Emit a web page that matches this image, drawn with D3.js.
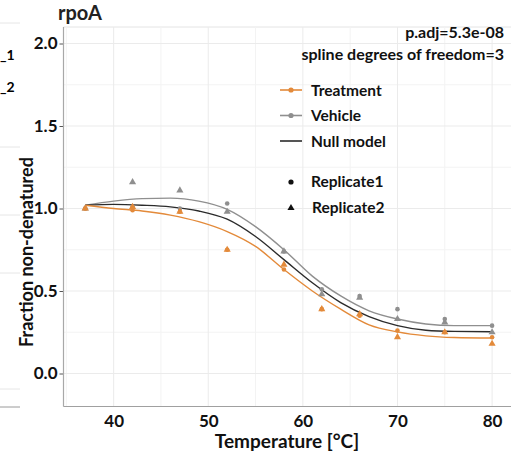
<!DOCTYPE html>
<html><head><meta charset="utf-8">
<script src="https://cdn.jsdelivr.net/npm/d3@7"></script>
<style>body{margin:0;background:#fff}svg{display:block}text{font-family:Lato,"Open Sans",sans-serif}</style>
</head><body>
<svg id="c" width="512" height="461"></svg>
<script>
// ---- data ----
const temps = [37, 42, 47, 52, 58, 62, 66, 70, 75, 80];
const treatmentRep1 = [1.00, 0.99, 0.98, 0.75, 0.63, 0.39, 0.35, 0.26, 0.25, 0.22];
const treatmentRep2 = [1.00, 1.01, 0.98, 0.75, 0.66, 0.39, 0.36, 0.22, 0.25, 0.18];
const vehicleRep1   = [1.00, 1.01, 1.00, 1.03, 0.74, 0.51, 0.47, 0.39, 0.33, 0.29];
const vehicleRep2   = [1.00, 1.16, 1.11, 0.98, 0.74, 0.48, 0.46, 0.33, 0.31, 0.25];

const fitTemps   = [37, 40, 43, 46, 49, 52, 55, 58, 61, 64, 67, 70, 73, 76, 80];
const fitVehicle = [1.02, 1.045, 1.06, 1.063, 1.045, 0.995, 0.89, 0.75, 0.59, 0.47, 0.38, 0.33, 0.30, 0.29, 0.29];
const fitNull    = [1.02, 1.025, 1.02, 1.01, 0.985, 0.935, 0.83, 0.69, 0.55, 0.43, 0.345, 0.29, 0.262, 0.255, 0.253];
const fitTreat   = [1.02, 1.00, 0.985, 0.96, 0.92, 0.86, 0.77, 0.63, 0.50, 0.39, 0.295, 0.252, 0.228, 0.218, 0.215];

const xTicks = [40, 50, 60, 70, 80];
const xMinor = [35, 45, 55, 65, 75];
const yTicks = [0, 0.5, 1.0, 1.5, 2.0];
const yMinor = [0.25, 0.75, 1.25, 1.75];

const title = "rpoA";
const xLabel = "Temperature [\u00B0C]";
const yLabel = "Fraction non-denatured";
const annot = ["p.adj=5.3e-08", "spline degrees of freedom=3"];
const legendLines = ["Treatment", "Vehicle", "Null model"];
const legendShapes = ["Replicate1", "Replicate2"];

// ---- drawing ----
const svg = d3.select("#c");
const L = 63.5, R = 511, T = 27, B = 406.5;
const x = d3.scaleLinear().domain([34.7, 82]).range([L, R]);
const y = d3.scaleLinear().domain([-0.2, 2.1]).range([B, T]);

const ORANGE = "#E38A3A", GREY = "#8f8f8f", BLACK = "#2b2b2b";

// neighbouring-panel remnants at far left
const lf = svg.append("g");
[23, 147, 215, 273, 389].forEach(v => lf.append("line").attr("x1", 0).attr("x2", 20).attr("y1", v).attr("y2", v).attr("stroke", "#e6e6e6"));
lf.append("line").attr("x1", 0).attr("x2", 20).attr("y1", 407).attr("y2", 407).attr("stroke", "#9a9a9a");
lf.append("text").attr("x", 0).attr("y", 60).attr("font-size", 14).attr("font-weight", 700).text("_1");
lf.append("text").attr("x", 0).attr("y", 92).attr("font-size", 14).attr("font-weight", 700).text("_2");

// grid
const g = svg.append("g");
g.append("line").attr("x1", L).attr("x2", R).attr("y1", T).attr("y2", T).attr("stroke", "#e4e4e4");
xMinor.forEach(v => g.append("line").attr("x1", x(v)).attr("x2", x(v)).attr("y1", T).attr("y2", B).attr("stroke", "#f3f3f3"));
yMinor.forEach(v => g.append("line").attr("x1", L).attr("x2", R).attr("y1", y(v)).attr("y2", y(v)).attr("stroke", "#f3f3f3"));
xTicks.forEach(v => g.append("line").attr("x1", x(v)).attr("x2", x(v)).attr("y1", T).attr("y2", B).attr("stroke", "#ebebeb"));
yTicks.forEach(v => g.append("line").attr("x1", L).attr("x2", R).attr("y1", y(v)).attr("y2", y(v)).attr("stroke", "#ebebeb"));

// axes
const yAx = svg.append("g").attr("transform", `translate(${L},0)`)
  .call(d3.axisLeft(y).tickValues(yTicks).tickFormat(d3.format(".1f")).tickSize(4).tickPadding(2));
yAx.select(".domain").remove();
yAx.selectAll("line").attr("stroke", "#555");
yAx.selectAll("text").attr("font-size", 17).attr("font-weight", 700).attr("fill", "#111").attr("font-family", "Lato");
const xAx = svg.append("g").attr("transform", `translate(0,${B})`)
  .call(d3.axisBottom(x).tickValues(xTicks).tickFormat(d3.format("d")).tickSize(0).tickPadding(8));
xAx.select(".domain").remove();
xAx.selectAll("text").attr("font-size", 17).attr("font-weight", 700).attr("fill", "#111").attr("font-family", "Lato");
svg.append("line").attr("x1", L).attr("x2", L).attr("y1", T).attr("y2", B).attr("stroke", "#a8a8a8").attr("stroke-width", 1.2);
svg.append("line").attr("x1", L).attr("x2", R).attr("y1", B).attr("y2", B).attr("stroke", "#a0a0a0").attr("stroke-width", 1.2);

// curves
const line = d3.line().x(d => x(d[0])).y(d => y(d[1])).curve(d3.curveMonotoneX);
[[fitVehicle, GREY], [fitNull, BLACK], [fitTreat, ORANGE]].forEach(([vals, col]) => {
  svg.append("path").attr("d", line(fitTemps.map((t, i) => [t, vals[i]])))
    .attr("fill", "none").attr("stroke", col).attr("stroke-width", 1.4);
});

// points
const tri = d3.symbol().type(d3.symbolTriangle).size(22);
function pts(vals, col, shape) {
  temps.forEach((t, i) => {
    if (shape === "c") svg.append("circle").attr("cx", x(t)).attr("cy", y(vals[i])).attr("r", 2.3).attr("fill", col);
    else svg.append("path").attr("d", tri()).attr("transform", `translate(${x(t)},${y(vals[i])})`).attr("fill", col);
  });
}
pts(vehicleRep1, GREY, "c"); pts(vehicleRep2, GREY, "t");
pts(treatmentRep1, ORANGE, "c"); pts(treatmentRep2, ORANGE, "t");

// title & labels
svg.append("text").attr("x", 58).attr("y", 20).attr("font-size", 20).attr("font-weight", 700).attr("fill", "#222").text(title);
svg.append("text").attr("x", 287).attr("y", 448).attr("text-anchor", "middle").attr("font-size", 19).attr("font-weight", 700).attr("fill", "#111").text(xLabel);
svg.append("text").attr("transform", "translate(33,252) rotate(-90)").attr("text-anchor", "middle").attr("font-size", 18).attr("font-weight", 700).attr("fill", "#111").text(yLabel);

// annotation
annot.forEach((s, i) => svg.append("text").attr("x", 504).attr("y", 38 + i * 22).attr("text-anchor", "end")
  .attr("font-size", 16).attr("font-weight", 700).attr("fill", "#111").text(s));

// legend
const lcols = [ORANGE, GREY, BLACK];
legendLines.forEach((s, i) => {
  const yy = 90 + i * 25.5;
  svg.append("line").attr("x1", 280).attr("x2", 302).attr("y1", yy).attr("y2", yy).attr("stroke", lcols[i]).attr("stroke-width", 1.6);
  if (i < 2) svg.append("circle").attr("cx", 291).attr("cy", yy).attr("r", 2.6).attr("fill", lcols[i]);
  svg.append("text").attr("x", 311).attr("y", yy + 5.5).attr("font-size", 15.5).attr("font-weight", 700).attr("fill", "#111").text(s);
});
legendShapes.forEach((s, i) => {
  const yy = 181 + i * 26;
  if (i === 0) svg.append("circle").attr("cx", 291).attr("cy", yy + 1).attr("r", 2.6).attr("fill", "#111");
  else svg.append("path").attr("d", tri()).attr("transform", `translate(291,${yy + 1})`).attr("fill", "#111");
  svg.append("text").attr("x", i === 0 ? 311 : 312).attr("y", yy + 5.5).attr("font-size", 15.5).attr("font-weight", 700).attr("fill", "#111").text(s);
});
</script>
</body></html>
